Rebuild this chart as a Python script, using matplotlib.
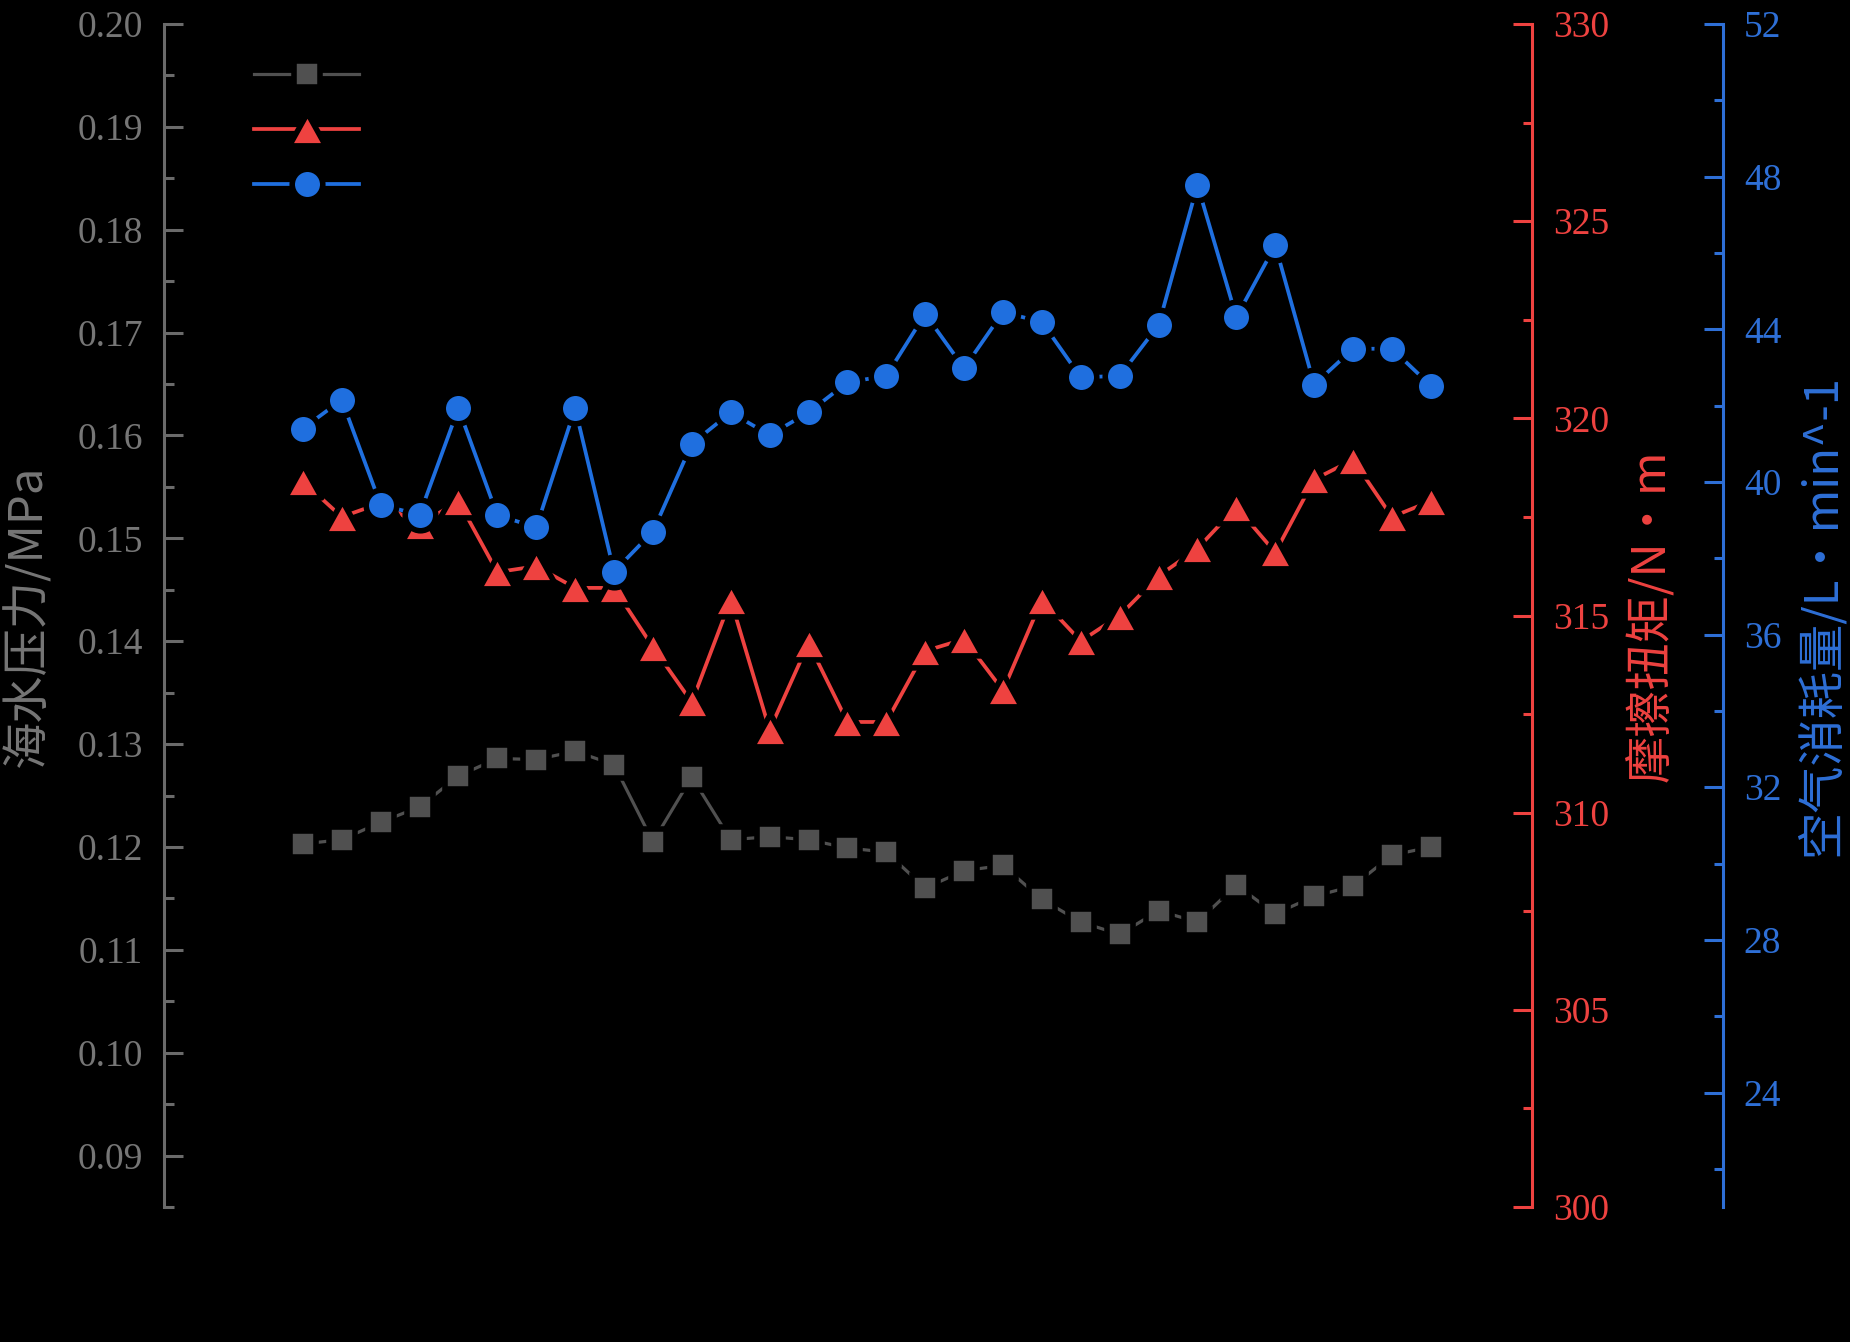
import matplotlib
matplotlib.use('Agg')
import matplotlib.pyplot as plt
from matplotlib.ticker import MultipleLocator, FormatStrFormatter
from matplotlib.path import Path

# ---------------- data ----------------
sample_idx = list(range(1, 31))
water_pressure = [0.1203, 0.1207, 0.1224, 0.1239, 0.1269, 0.1286, 0.1285, 0.1293, 0.1280, 0.1205,
                  0.1268, 0.1207, 0.1210, 0.1207, 0.1199, 0.1195, 0.1160, 0.1177, 0.1182, 0.1149,
                  0.1127, 0.1115, 0.1138, 0.1127, 0.1163, 0.1135, 0.1152, 0.1162, 0.1192, 0.1200]
friction_torque = [318.4, 317.5, 317.85, 317.3, 317.9, 316.1, 316.25, 315.7, 315.7, 314.2,
                   312.8, 315.4, 312.1, 314.3, 312.3, 312.3, 314.1, 314.4, 313.1, 315.4,
                   314.35, 315.0, 316.0, 316.7, 317.75, 316.6, 318.45, 318.95, 317.5, 317.9]
air_consumption = [41.4, 42.15, 39.4, 39.14, 41.93, 39.13, 38.81, 41.93, 37.65, 38.7,
                   41.0, 41.82, 41.23, 41.82, 42.61, 42.78, 44.4, 42.98, 44.45, 44.19,
                   42.74, 42.78, 44.11, 47.78, 44.32, 46.2, 42.55, 43.49, 43.49, 42.52]
series_names = ["海水压力", "摩擦扭矩", "空气消耗量"]
left_label = "海水压力/MPa"
mid_label = "摩擦扭矩/N•m"
right_label = "空气消耗量/L•min^-1"

# ---------------- style ----------------
GRAY = '#505050'
GRAY_AX = '#6a6a6a'
GRAY_TXT = '#767676'
RED = '#ee4240'
BLUE = '#1f6fdf'
BLUE_AX = '#2e6fd6'
TICK_FONT = ['Liberation Serif', 'DejaVu Serif']
CJK_FONT = ['Noto Sans CJK SC', 'DejaVu Sans']
TFS = 27
LFS = 34

W, H = 1850, 1342
x0, x1, y0, y1 = 164, 1532, 24, 1207
fig = plt.figure(figsize=(W / 100, H / 100), dpi=100, facecolor='black')
ax = fig.add_axes([x0 / W, 1 - y1 / H, (x1 - x0) / W, (y1 - y0) / H])
ax.set_facecolor('black')
ax2 = ax.twinx()
ax3 = ax.twinx()
ax3.spines['right'].set_position(('axes', 1 + (1723 - x1) / (x1 - x0)))

tri = Path([(0, 0.9), (-1, -0.9), (1, -0.9), (0, 0.9)],
           [Path.MOVETO, Path.LINETO, Path.LINETO, Path.CLOSEPOLY])

edge = dict(mec='black', mew=4.0)
l1, = ax.plot(sample_idx, water_pressure, color=GRAY, lw=2.3, marker='s', ms=18.8, mfc=GRAY, **edge)
l2, = ax2.plot(sample_idx, friction_torque, color=RED, lw=2.7, marker=tri, ms=26.2, mfc=RED, **edge)
l3, = ax3.plot(sample_idx, air_consumption, color=BLUE, lw=2.7, marker='o', ms=22, mfc=BLUE, **edge)

ax.set_xlim(-2.57, 32.6)
ax.set_ylim(0.085, 0.20)
ax2.set_ylim(300, 330)
ax3.set_ylim(21, 52)

for a in (ax, ax2, ax3):
    a.spines['top'].set_visible(False)
    a.spines['bottom'].set_visible(False)
    a.tick_params(axis='x', which='both', bottom=False, top=False, labelbottom=False, labeltop=False)
ax.spines['right'].set_visible(False)
for a in (ax2, ax3):
    a.spines['left'].set_visible(False)
    a.patch.set_visible(False)

# left axis
ax.spines['left'].set_color(GRAY_AX)
ax.spines['left'].set_linewidth(2.2)
ax.yaxis.set_major_locator(MultipleLocator(0.01))
ax.yaxis.set_minor_locator(MultipleLocator(0.005))
ax.yaxis.set_major_formatter(FormatStrFormatter('%.2f'))
ax.tick_params(axis='y', which='both', direction='in', colors=GRAY_AX, width=2.2, labelcolor=GRAY_TXT,
               labelsize=TFS, pad=15)
ax.tick_params(axis='y', which='major', length=13.5)
ax.tick_params(axis='y', which='minor', length=7)

# red axis
ax2.spines['right'].set_color(RED)
ax2.spines['right'].set_linewidth(2.2)
ax2.yaxis.set_major_locator(MultipleLocator(5))
ax2.yaxis.set_minor_locator(MultipleLocator(2.5))
ax2.yaxis.set_major_formatter(FormatStrFormatter('%d'))
ax2.tick_params(axis='y', which='both', direction='in', colors=RED, width=2.2, labelsize=TFS, pad=15)
ax2.tick_params(axis='y', which='major', length=13.5)
ax2.tick_params(axis='y', which='minor', length=6.5)

# blue axis
ax3.spines['right'].set_color(BLUE_AX)
ax3.spines['right'].set_linewidth(2.2)
ax3.yaxis.set_major_locator(MultipleLocator(4))
ax3.yaxis.set_minor_locator(MultipleLocator(2))
ax3.yaxis.set_major_formatter(FormatStrFormatter('%d'))
ax3.tick_params(axis='y', which='both', direction='in', colors=BLUE_AX, width=2.2, labelsize=TFS, pad=15)
ax3.tick_params(axis='y', which='major', length=13.5)
ax3.tick_params(axis='y', which='minor', length=6.5)

for a in (ax, ax2, ax3):
    for t in a.get_yticklabels():
        t.set_fontfamily(TICK_FONT)

span = x1 - x0
ax.set_ylabel(left_label, color=GRAY_TXT, fontsize=LFS, family=CJK_FONT)
ax.yaxis.set_label_coords((52 - x0) / span, 0.5)
ax2.set_ylabel(mid_label, color=RED, fontsize=LFS, family=CJK_FONT, rotation=90)
ax2.yaxis.set_label_coords((1627 - x0) / span, 0.5)
ax3.set_ylabel(right_label, color=BLUE_AX, fontsize=LFS, family=CJK_FONT, rotation=90)
ax3.yaxis.set_label_coords((1797 - x0) / span, 0.5)

leg = ax3.legend([l1, l2, l3], series_names, loc='upper left',
                 bbox_to_anchor=((254 - x0) / span, 1 - (59 - y0) / (y1 - y0)),
                 frameon=False, borderpad=0, borderaxespad=0, numpoints=1,
                 handlelength=3.15, labelspacing=0.6, handletextpad=0.6,
                 prop={'family': CJK_FONT, 'size': 24})
for t in leg.get_texts():
    t.set_color('black')

fig.savefig('out.png', dpi=100, facecolor='black')
